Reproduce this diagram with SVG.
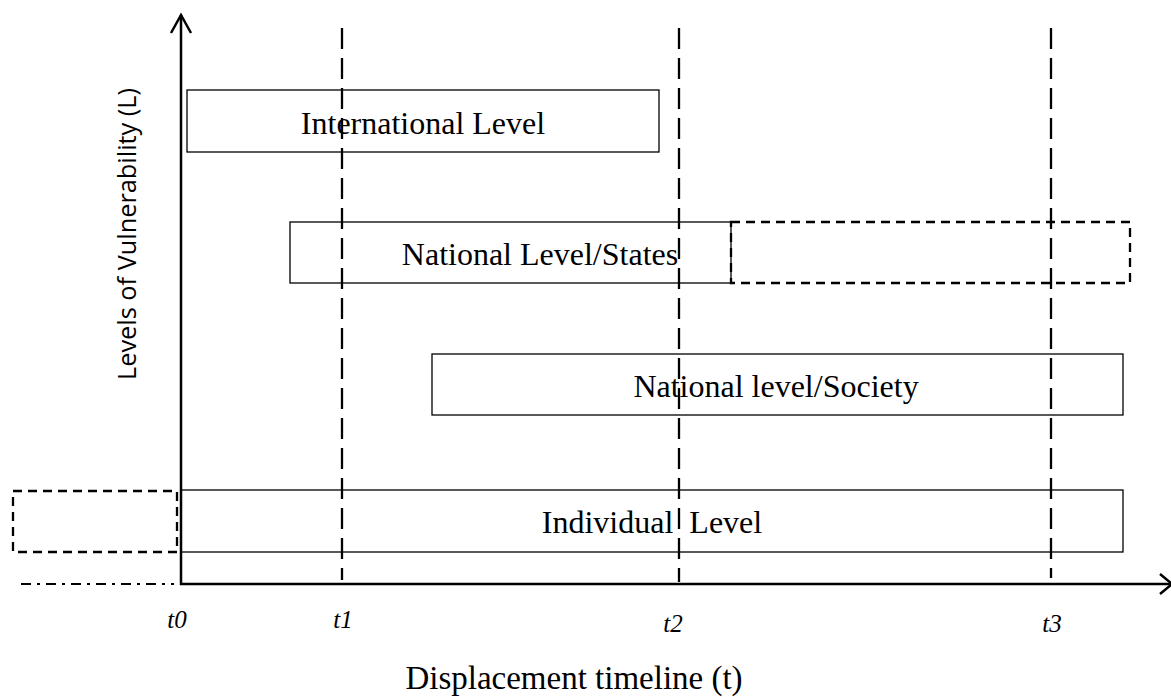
<svg xmlns="http://www.w3.org/2000/svg" width="1171" height="697" viewBox="0 0 1171 697">
<style>
.box{fill:none;stroke:#000;stroke-width:1.3}
.dbox{fill:none;stroke:#000;stroke-width:2.3;stroke-dasharray:9,6}
.vline{fill:none;stroke:#000;stroke-width:2.3;stroke-dasharray:21,9}
.axis{fill:none;stroke:#000;stroke-width:2.5}
.lbl{font-family:"Liberation Serif","Times New Roman",serif;font-size:32px;fill:#000}
.t{font-family:"Liberation Serif","Times New Roman",serif;font-size:25px;font-style:italic;fill:#000}
.ylbl{font-family:"Open Sans","Liberation Sans",sans-serif;font-size:26px;fill:#000}
</style>
<rect width="1171" height="697" fill="#fff"/>
<g id="connectors">
<line class="vline" x1="342" y1="28" x2="342" y2="580"/>
<line class="vline" x1="679" y1="28" x2="679" y2="582"/>
<line class="vline" x1="1051" y1="28" x2="1051" y2="578"/>
</g>
<g id="node-international">
<rect class="box" x="187" y="90" width="472" height="62"/>
<text class="lbl" x="423" y="134" text-anchor="middle">International Level</text>
</g>
<g id="node-national-states">
<rect class="box" x="290" y="222" width="441" height="61"/>
<text class="lbl" x="540" y="265" text-anchor="middle">National Level/States</text>
</g>
<g id="node-national-states-ext">
<rect class="dbox" x="731" y="222" width="399" height="61"/>
</g>
<g id="node-national-society">
<rect class="box" x="432" y="354" width="691" height="61"/>
<text class="lbl" x="776" y="397" text-anchor="middle">National level/Society</text>
</g>
<g id="node-individual">
<rect class="box" x="181" y="490" width="942" height="62"/>
<text class="lbl" x="652" y="533" text-anchor="middle" xml:space="preserve">Individual  Level</text>
</g>
<g id="node-individual-ext">
<rect class="dbox" x="13" y="491" width="164" height="61"/>
</g>
<g id="axes">
<line class="axis" x1="181" y1="15" x2="181" y2="585"/>
<polyline class="axis" points="171,33 181,15 191,33"/>
<line class="axis" x1="180" y1="584" x2="1172" y2="584"/>
<polyline class="axis" points="1160,574 1172,584 1160,594"/>
<line x1="21" y1="584" x2="174" y2="584" stroke="#000" stroke-width="2" stroke-dasharray="10,6,3,6"/>
</g>
<g id="labels">
<text class="t" x="177" y="628" text-anchor="middle">t0</text>
<text class="t" x="343" y="628" text-anchor="middle">t1</text>
<text class="t" x="673" y="632" text-anchor="middle">t2</text>
<text class="t" x="1052" y="632" text-anchor="middle">t3</text>
<text class="lbl" x="574" y="689" text-anchor="middle" style="font-size:33px">Displacement timeline (t)</text>
<text class="ylbl" transform="translate(136,234) rotate(-90)" text-anchor="middle" textLength="292" lengthAdjust="spacingAndGlyphs">Levels of Vulnerability (L)</text>
</g>
</svg>
